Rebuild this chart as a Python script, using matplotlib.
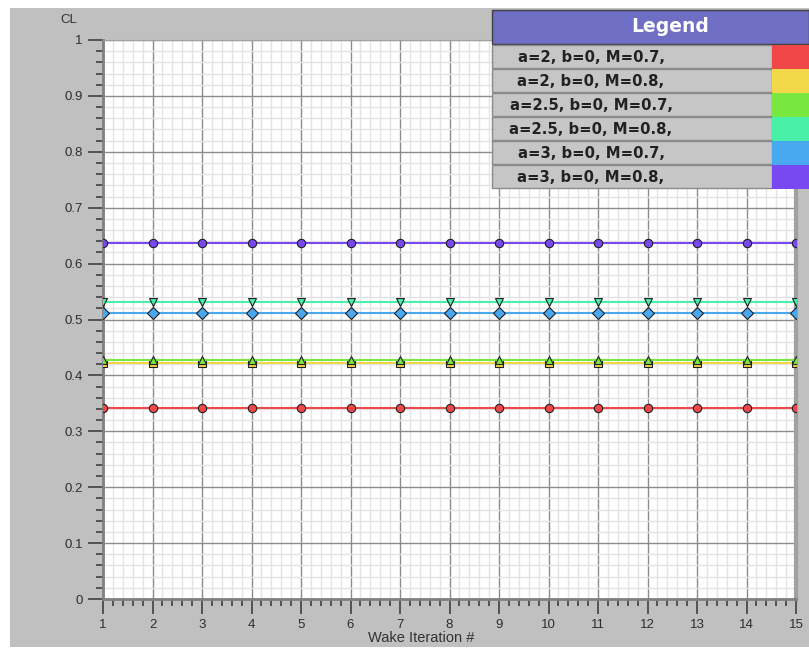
import matplotlib.pyplot as plt
from matplotlib.patches import Rectangle
from matplotlib.ticker import MultipleLocator

iterations = list(range(1, 16))

labels = ['a=2, b=0, M=0.7,', 'a=2, b=0, M=0.8,', 'a=2.5, b=0, M=0.7,',
          'a=2.5, b=0, M=0.8,', 'a=3, b=0, M=0.7,', 'a=3, b=0, M=0.8,']

cl_a2_m07 = [0.342, 0.342, 0.342, 0.342, 0.342, 0.342, 0.342, 0.342, 0.342, 0.342, 0.342, 0.342, 0.342, 0.342, 0.342]
cl_a2_m08 = [0.423, 0.423, 0.423, 0.423, 0.423, 0.423, 0.423, 0.423, 0.423, 0.423, 0.423, 0.423, 0.423, 0.423, 0.423]
cl_a25_m07 = [0.427, 0.427, 0.427, 0.427, 0.427, 0.427, 0.427, 0.427, 0.427, 0.427, 0.427, 0.427, 0.427, 0.427, 0.427]
cl_a25_m08 = [0.531, 0.531, 0.531, 0.531, 0.531, 0.531, 0.531, 0.531, 0.531, 0.531, 0.531, 0.531, 0.531, 0.531, 0.531]
cl_a3_m07 = [0.512, 0.512, 0.512, 0.512, 0.512, 0.512, 0.512, 0.512, 0.512, 0.512, 0.512, 0.512, 0.512, 0.512, 0.512]
cl_a3_m08 = [0.637, 0.637, 0.637, 0.637, 0.637, 0.637, 0.637, 0.637, 0.637, 0.637, 0.637, 0.637, 0.637, 0.637, 0.637]

series = [cl_a2_m07, cl_a2_m08, cl_a25_m07, cl_a25_m08, cl_a3_m07, cl_a3_m08]
colors = ['#f04848', '#f0d848', '#78e840', '#48f0a8', '#48a8f0', '#7848f0']
markers = ['o', 's', '^', 'v', 'D', 'o']

plt.rcParams['font.family'] = ['Liberation Sans', 'DejaVu Sans']

W, H = 809, 656
fig = plt.figure(figsize=(W / 100, H / 100), dpi=100)
fig.patch.set_facecolor('white')

# gray panel behind everything
fig.patches.append(Rectangle((10 / W, 1 - 647 / H), 799 / W, 639 / H,
                             transform=fig.transFigure, facecolor='#c0c0c0',
                             edgecolor='none', zorder=-10))

ax = fig.add_axes([103 / W, 1 - 599 / H, 693 / W, 559 / H])
ax.set_facecolor('white')

for vals, c, m in zip(series, colors, markers):
    ax.plot(iterations, vals, color=c, lw=1.5, marker=m, markersize=6,
            markerfacecolor=c, markeredgecolor='#202020', markeredgewidth=0.8, zorder=3)

ax.set_xlim(1, 15)
ax.set_ylim(0, 1)
ax.xaxis.set_major_locator(MultipleLocator(1))
ax.xaxis.set_minor_locator(MultipleLocator(0.2))
ax.yaxis.set_major_locator(MultipleLocator(0.1))
ax.yaxis.set_minor_locator(MultipleLocator(0.02))
ax.set_yticks([0, 0.1, 0.2, 0.3, 0.4, 0.5, 0.6, 0.7, 0.8, 0.9, 1.0])
ax.set_yticklabels(['0', '0.1', '0.2', '0.3', '0.4', '0.5', '0.6', '0.7', '0.8', '0.9', '1'])

ax.grid(which='minor', color='#e4e4e4', lw=1.0)
ax.grid(which='major', color='#8c8c8c', lw=1.0)
ax.set_axisbelow(True)

ax.tick_params(which='major', direction='out', length=10.5, width=1.2, color='#404040',
               labelsize=9.5, labelcolor='#2e2e2e', pad=4)
ax.tick_params(which='minor', direction='out', length=5, width=1.2, color='#404040')

for s in ['left', 'bottom']:
    ax.spines[s].set_color('#808080')
    ax.spines[s].set_linewidth(2)
ax.spines['top'].set_color('#a0a0a0')
ax.spines['right'].set_color('#a0a0a0')
ax.spines['right'].set_linewidth(3)

fig.text(421 / W, 1 - 638 / H, 'Wake Iteration #', fontsize=10.5, color='#333333',
         ha='center', va='center')
fig.text(69 / W, 1 - 20 / H, 'CL', fontsize=9.5, color='#333333', ha='center', va='center')

# legend panel, drawn by hand
lx0, lx1 = 492, 809
fig.patches.append(Rectangle((lx0 / W, 1 - 44 / H), (lx1 - lx0) / W, 34 / H,
                             transform=fig.transFigure, facecolor='#6e6ec4',
                             edgecolor='#404040', lw=1, zorder=5))
fig.text(670 / W, 1 - 27 / H, 'Legend', fontsize=13.5, fontweight='bold',
         family='DejaVu Sans', color='white', ha='center', va='center', zorder=6)
row_h = 24
for i, (lab, c) in enumerate(zip(labels, colors)):
    top = 45 + i * row_h
    fig.patches.append(Rectangle((lx0 / W, 1 - (top + row_h - 1) / H), (772 - lx0) / W, (row_h - 1) / H,
                                 transform=fig.transFigure, facecolor='#c6c6c6',
                                 edgecolor='#8a8a8a', lw=1, zorder=5))
    fig.patches.append(Rectangle((772 / W, 1 - (top + row_h) / H), (lx1 - 772) / W, row_h / H,
                                 transform=fig.transFigure, facecolor=c,
                                 edgecolor='none', zorder=5))
    fig.text(591 / W, 1 - (top + row_h / 2) / H, lab, fontsize=10.7, fontweight='bold',
             family='DejaVu Sans', color='#222222', ha='center', va='center', zorder=6)

fig.savefig('out.png', dpi=100, facecolor=fig.get_facecolor())
